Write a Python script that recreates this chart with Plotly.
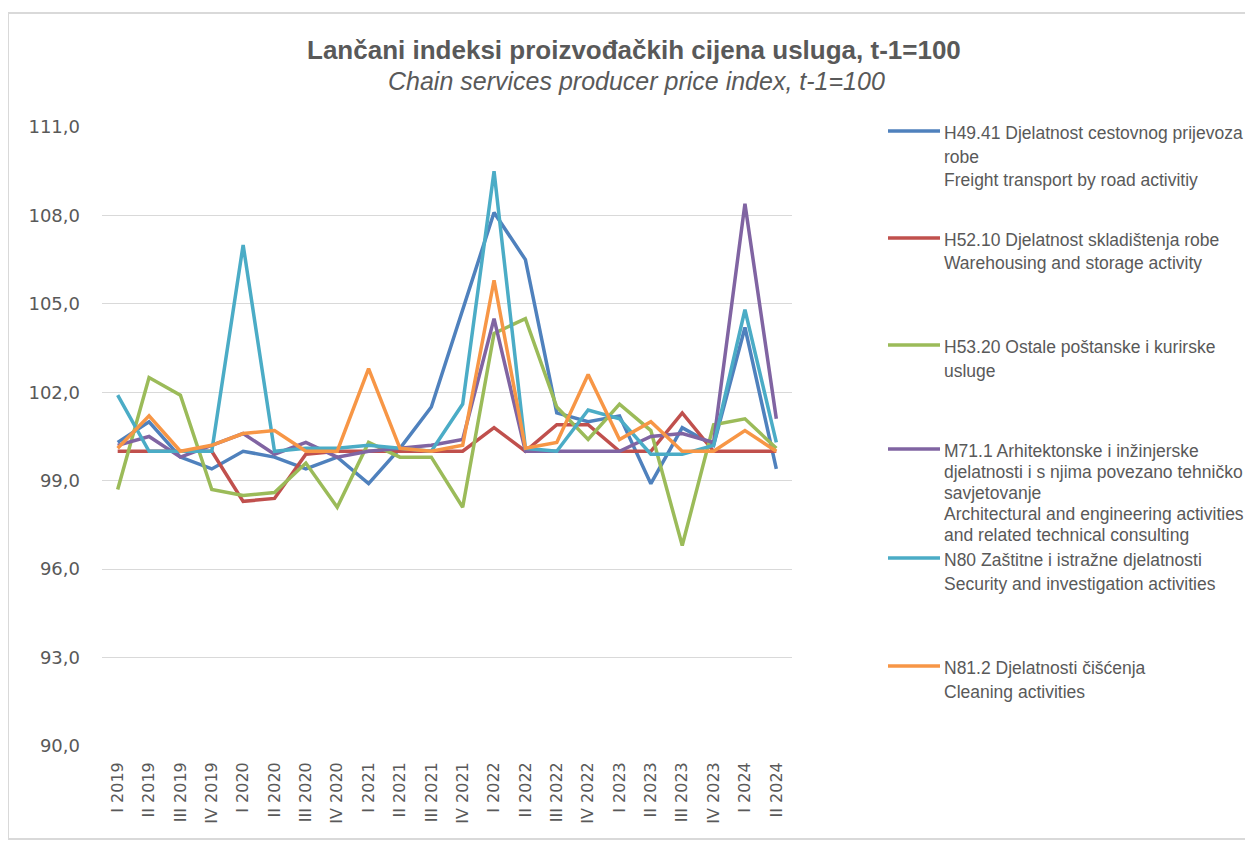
import plotly.graph_objects as go

categories = ["I 2019", "II 2019", "III 2019", "IV 2019",
              "I 2020", "II 2020", "III 2020", "IV 2020",
              "I 2021", "II 2021", "III 2021", "IV 2021",
              "I 2022", "II 2022", "III 2022", "IV 2022",
              "I 2023", "II 2023", "III 2023", "IV 2023",
              "I 2024", "II 2024"]

h4941 = [100.3, 101.0, 99.8, 99.4, 100.0, 99.8, 99.4, 99.8, 98.9, 100.1, 101.5, 104.8,
         108.1, 106.5, 101.3, 101.0, 101.2, 98.9, 100.8, 100.2, 104.2, 99.4]
h5210 = [100.0, 100.0, 100.0, 100.0, 98.3, 98.4, 99.9, 100.0, 100.0, 100.0, 100.0, 100.0,
         100.8, 100.0, 100.9, 100.9, 100.0, 100.0, 101.3, 100.0, 100.0, 100.0]
h5320 = [98.7, 102.5, 101.9, 98.7, 98.5, 98.6, 99.6, 98.1, 100.3, 99.8, 99.8, 98.1,
         104.0, 104.5, 101.5, 100.4, 101.6, 100.7, 96.8, 100.9, 101.1, 100.1]
m711 = [100.2, 100.5, 99.8, 100.2, 100.6, 99.9, 100.3, 99.8, 100.0, 100.1, 100.2, 100.4,
        104.5, 100.0, 100.0, 100.0, 100.0, 100.5, 100.6, 100.3, 108.4, 101.1]
n80 = [101.9, 100.0, 100.0, 100.0, 107.0, 100.0, 100.1, 100.1, 100.2, 100.1, 100.0, 101.6,
       109.5, 100.1, 100.0, 101.4, 101.1, 99.9, 99.9, 100.2, 104.8, 100.3]
n812 = [100.1, 101.2, 100.0, 100.2, 100.6, 100.7, 100.0, 100.0, 102.8, 100.1, 100.0, 100.2,
        105.8, 100.1, 100.3, 102.6, 100.4, 101.0, 100.0, 100.0, 100.7, 100.0]

series_values = [h4941, h5210, h5320, m711, n80, n812]
series_names = [
    "H49.41 Djelatnost cestovnog prijevoza<br>robe<br>Freight transport by road activitiy",
    "H52.10 Djelatnost skladištenja robe<br>Warehousing and storage activity",
    "H53.20 Ostale poštanske i kurirske<br>usluge",
    "M71.1 Arhitektonske i inžinjerske<br>djelatnosti i s njima povezano tehničko<br>savjetovanje<br>Architectural and engineering activities<br>and related technical consulting",
    "N80 Zaštitne i istražne djelatnosti<br>Security and investigation activities",
    "N81.2 Djelatnosti čišćenja<br>Cleaning activities",
]
colors = ["#4F81BD", "#C0504D", "#9BBB59", "#8064A2", "#4BACC6", "#F79646"]

y_ticks = [90, 93, 96, 99, 102, 105, 108, 111]
y_tick_labels = ["90,0", "93,0", "96,0", "99,0", "102,0", "105,0", "108,0", "111,0"]

OFF = 8  # page body margin
W, H = 1253 - OFF, 841 - OFF
# plot area in screen pixels
SL, SR, ST, SB = 102, 792, 127, 746
L, R, T, B = SL - OFF, SR - OFF, ST - OFF, SB - OFF

def px(x):
    return (x - SL) / (SR - SL)

def py(y):
    return (SB - y) / (SB - ST)

fig = go.Figure()
for vals, name, c in zip(series_values, series_names, colors):
    fig.add_trace(go.Scatter(x=categories, y=vals, mode="lines", name=name,
                             line=dict(color=c, width=3.5), showlegend=False))

shapes = [dict(type="rect", xref="paper", yref="paper",
               x0=px(8), x1=px(1270), y0=py(839), y1=py(13),
               line=dict(color="#D9D9D9", width=2), fillcolor="rgba(0,0,0,0)", layer="below")]
annotations = [
    dict(text="<b>Lančani indeksi proizvođačkih cijena usluga, t-1=100</b>",
         xref="paper", yref="paper", x=px(634), y=py(50), showarrow=False,
         font=dict(family="Liberation Sans, Arial", size=26, color="#595959"),
         xanchor="center", yanchor="middle"),
    dict(text="<i>Chain services producer price index, t-1=100</i>",
         xref="paper", yref="paper", x=px(636), y=py(81), showarrow=False,
         font=dict(family="Liberation Sans, Arial", size=25, color="#595959"),
         xanchor="center", yanchor="middle"),
]

legend_tops = [122, 229, 336, 440, 549, 657]
legend_line_h = [23.5, 23.5, 23.5, 21.0, 23.5, 23.5]
for top, lh, name, c in zip(legend_tops, legend_line_h, series_names, colors):
    shapes.append(dict(type="line", xref="paper", yref="paper",
                       x0=px(888), x1=px(940), y0=py(top + 9), y1=py(top + 9),
                       line=dict(color=c, width=3.5)))
    for k, ln in enumerate(name.split("<br>")):
        annotations.append(dict(text=ln, xref="paper", yref="paper",
                                x=px(942), y=py(top + 11 + k * lh), showarrow=False,
                                xanchor="left", yanchor="middle",
                                font=dict(family="Liberation Sans, Arial", size=17.5, color="#595959")))

fig.update_layout(
    width=W, height=H,
    margin=dict(l=L, r=W - R, t=T, b=H - B, pad=0),
    paper_bgcolor="white", plot_bgcolor="white",
    shapes=shapes, annotations=annotations,
    xaxis=dict(type="category", range=[-0.5, len(categories) - 0.5],
               tickangle=-90, showgrid=False, showline=False, zeroline=False,
               ticks="", ticklabelstandoff=12,
               tickfont=dict(family="DejaVu Sans", size=16, color="#595959")),
    yaxis=dict(range=[90, 111], tickvals=y_ticks, ticktext=y_tick_labels,
               showgrid=True, gridcolor="#D9D9D9", gridwidth=1.3, zeroline=False,
               showline=False, ticks="", ticklabelstandoff=21,
               tickfont=dict(family="DejaVu Sans", size=18, color="#595959")),
)

fig.write_html("out.html")
